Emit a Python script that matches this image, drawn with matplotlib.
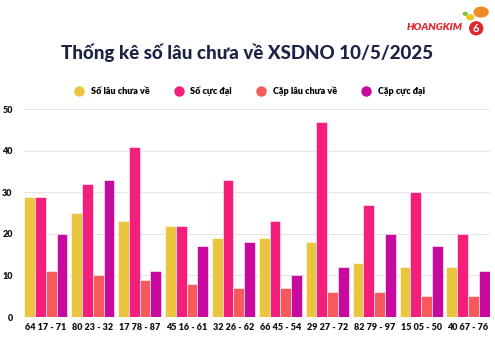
import numpy as np
import matplotlib
matplotlib.use("Agg")
import matplotlib.pyplot as plt
from matplotlib.lines import Line2D

# data
groups = ["64 17 - 71", "80 23 - 32", "17 78 - 87", "45 16 - 61", "32 26 - 62",
          "66 45 - 54", "29 27 - 72", "82 79 - 97", "15 05 - 50", "40 67 - 76"]
so_lau = [29, 25, 23, 22, 19, 19, 18, 13, 12, 12]
so_cuc_dai = [29, 32, 41, 22, 33, 23, 47, 27, 30, 20]
cap_lau = [11, 10, 9, 8, 7, 7, 6, 6, 5, 5]
cap_cuc_dai = [20, 33, 11, 17, 18, 10, 12, 20, 17, 11]

series = [so_lau, so_cuc_dai, cap_lau, cap_cuc_dai]
names = ["Số lâu chưa về", "Số cực đại", "Cặp lâu chưa về", "Cặp cực đại"]
colors = ["#EBC53F", "#F41E7B", "#F65A5A", "#C8099E"]

plt.rcParams['font.family'] = ['Lato', 'DejaVu Sans']

fig = plt.figure(figsize=(4.95, 3.45), dpi=100)
ax = fig.add_axes([0.048, 0.081, 0.942, 0.606])

x = np.arange(len(groups))
w = 0.23
for i, (vals, c) in enumerate(zip(series, colors)):
    ax.bar(x + (i - 1.5) * w, vals, width=w, color=c, edgecolor="white",
           linewidth=0.4, zorder=3)

ax.set_xlim(-0.47, len(groups) - 1 + 0.47)
ax.set_ylim(0, 50.3)
ax.set_yticks([0, 10, 20, 30, 40, 50])
ax.set_xticks(x)
ax.set_xticklabels(groups, fontsize=6.5, fontweight="heavy", color="#111111")
ax.tick_params(axis="y", labelsize=6.5, length=0, pad=8, labelcolor="#111111")
ax.tick_params(axis="x", length=0, pad=4)
for lbl in ax.get_yticklabels():
    lbl.set_fontweight("heavy")
ax.grid(axis="y", color="#e6e6e6", linewidth=0.8, zorder=0)
for s in ax.spines.values():
    s.set_visible(False)

fig.text(0.5, 0.846, "Thống kê số lâu chưa về XSDNO 10/5/2025", ha="center",
         va="center", fontsize=13.5, fontweight=900, color="#1B2444")

handles = [Line2D([], [], marker="o", linestyle="", markersize=6.5,
                  markerfacecolor=c, markeredgecolor=c) for c in colors]
fig.legend(handles, names, loc="center", bbox_to_anchor=(0.5, 0.736), ncol=4,
           frameon=False, prop={"size": 6.5, "weight": "heavy"},
           handletextpad=0.3, columnspacing=2.2)

# logo
fig.text(0.935, 0.92, "HOANGKIM", ha="right", va="center", fontsize=7.5,
         fontweight="heavy", style="italic", color="#E0262D")
fig.text(0.962, 0.918, "6", ha="center", va="center", fontsize=8,
         fontweight="bold", color="white",
         bbox=dict(boxstyle="circle,pad=0.15", fc="#E0262D", ec="none"))
fig.patches.append(matplotlib.patches.Circle((0.972, 0.965), 0.014,
                   transform=fig.transFigure, color="#F08A24", zorder=5))
fig.patches.append(matplotlib.patches.Circle((0.95, 0.95), 0.007,
                   transform=fig.transFigure, color="#F5C518", zorder=5))
fig.patches.append(matplotlib.patches.Circle((0.94, 0.96), 0.004,
                   transform=fig.transFigure, color="#7CC242", zorder=5))

fig.savefig("out.png", dpi=100, facecolor="white")
